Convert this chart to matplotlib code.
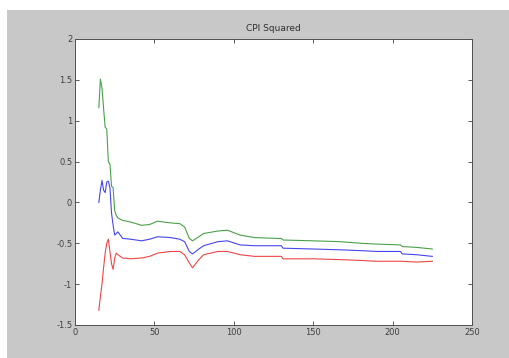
import numpy as np
import matplotlib
matplotlib.use("Agg")
from matplotlib import pyplot as plt
from matplotlib.patches import Rectangle

# sample index and the three squared-CPI traces
t = [15, 16, 17, 18, 19, 20, 21, 22, 23, 24, 25, 26, 27, 30, 35, 42, 47, 52,
     60, 66, 69, 72, 74, 78, 81, 90, 96, 104, 113, 127, 130, 131, 150, 167,
     180, 190, 205, 206, 215, 225]

upper = [1.16, 1.51, 1.40, 1.15, 0.92, 0.90, 0.50, 0.47, 0.20, 0.18, -0.10,
         -0.16, -0.19, -0.22, -0.24, -0.28, -0.27, -0.23, -0.25, -0.26, -0.30,
         -0.44, -0.47, -0.42, -0.38, -0.35, -0.34, -0.40, -0.43, -0.44, -0.44,
         -0.46, -0.47, -0.48, -0.50, -0.51, -0.52, -0.54, -0.55, -0.57]

middle = [0.00, 0.15, 0.27, 0.15, 0.12, 0.25, 0.26, 0.18, -0.13, -0.28, -0.40,
          -0.38, -0.36, -0.44, -0.45, -0.47, -0.45, -0.42, -0.43, -0.45, -0.48,
          -0.60, -0.63, -0.57, -0.53, -0.48, -0.47, -0.52, -0.53, -0.53, -0.53,
          -0.56, -0.57, -0.58, -0.59, -0.60, -0.60, -0.63, -0.64, -0.66]

lower = [-1.32, -1.15, -1.00, -0.80, -0.62, -0.50, -0.45, -0.60, -0.75, -0.82,
         -0.68, -0.62, -0.64, -0.68, -0.69, -0.68, -0.66, -0.62, -0.60, -0.60,
         -0.64, -0.74, -0.80, -0.70, -0.64, -0.60, -0.60, -0.64, -0.66, -0.66,
         -0.66, -0.69, -0.69, -0.70, -0.71, -0.72, -0.72, -0.72, -0.73, -0.72]

xticks = [0, 50, 100, 150, 200, 250]
yticks = [-1.5, -1, -0.5, 0, 0.5, 1, 1.5, 2]
ylabels = ['-1.5', '-1', '-0.5', '0', '0.5', '1', '1.5', '2']

fig = plt.figure(figsize=(5.09, 3.58), dpi=100, facecolor='white')
# grey window area, leaving a thin white border at top and left
fig.patches.append(Rectangle((7 / 509, 0), 1, 348 / 358, transform=fig.transFigure,
                             facecolor='#c8c8c8', edgecolor='none', zorder=-10))

ax = fig.add_axes([75 / 509, 1 - 325 / 358, 397 / 509, 286 / 358])
ax.set_facecolor('white')

ax.plot(t, upper, color='#4aa04a', lw=0.8)
ax.plot(t, middle, color='#4646ee', lw=0.8)
ax.plot(t, lower, color='#ee4646', lw=0.8)

ax.set_xlim(0, 250)
ax.set_ylim(-1.5, 2)
ax.set_xticks(xticks)
ax.set_yticks(yticks)
ax.set_yticklabels(ylabels)
ax.tick_params(direction='in', length=3, width=0.6, top=True, right=True,
               labelsize=6, colors='#404040', pad=2)
for s in ax.spines.values():
    s.set_color('#505050')
    s.set_linewidth(0.7)

ax.set_title('CPI Squared', fontsize=6.5, color='#303030', pad=6)

fig.savefig('out.png', dpi=100, facecolor=fig.get_facecolor())
